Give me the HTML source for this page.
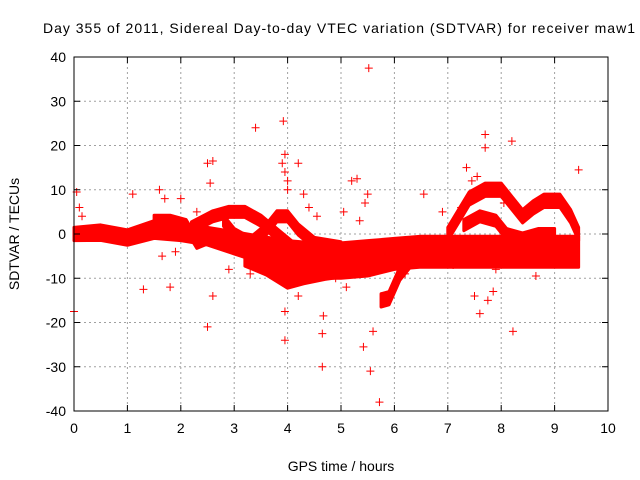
<!DOCTYPE html>
<html><head><meta charset="utf-8"><style>
body{margin:0;background:#fff}
svg{display:block;font-family:"Liberation Sans",sans-serif}
</style></head><body>
<svg id="c" width="640" height="480">
<text x="339" y="33" font-size="14" text-anchor="middle" textLength="592">Day 355 of 2011, Sidereal Day-to-day VTEC variation (SDTVAR) for receiver maw1</text>
<text x="341" y="471" font-size="14" text-anchor="middle">GPS time / hours</text>
<text transform="translate(19,234) rotate(-90)" font-size="14" text-anchor="middle">SDTVAR / TECUs</text>
<g id="grid"></g><g id="marks"></g><g id="axes"></g>
</svg>
<script>
const xTicks=[0,1,2,3,4,5,6,7,8,9,10];
const yTicks=[-40,-30,-20,-10,0,10,20,30,40];
// band tracks: [hour, value] knots
const trackMain=[[0,0],[0.5,0.3],[1,-0.8],[1.5,1],[2,0.5],[2.5,-0.5],[3,-2],[3.5,-3.5],[4,-5],[4.5,-6],[5,-6],[5.5,-5.5],[6,-4.5],[6.5,-4],[7,-4],[7.5,-4],[8,-4],[8.5,-4],[9,-4],[9.45,-4]];
const trackMainW=[3,3.5,3.5,4,4,4,5,6,7,8,8,8,7,7,7,7,7,7,7,7];
const trackLoopA=[[2.2,1.5],[2.6,4],[2.9,5],[3.2,5],[3.5,3],[3.8,0],[4.1,-3],[4.5,-4]];
const trackLoopB=[[2.8,3],[3.0,0],[3.3,-2],[3.6,1],[3.8,4],[4.0,4],[4.2,1],[4.5,-2],[5,-3]];
const trackLow=[[3.2,-5],[3.6,-7],[4,-10],[4.3,-9],[4.7,-8],[5,-7.5],[5.3,-7],[5.7,-6.5],[6,-5.5]];
const trackDip=[[5.75,-15],[5.9,-14.5],[6.1,-9],[6.3,-6]];
const trackTop=[[7.0,0],[7.2,4],[7.4,8],[7.7,10],[8.0,10],[8.2,7],[8.4,4],[8.6,6],[8.8,7.5],[9.1,7.5],[9.3,4],[9.45,0]];
const trackInner=[[7.3,2],[7.6,4],[7.9,3],[8.1,0],[8.4,-1],[8.7,0],[9.0,0]];
const trackMid=[[1.5,3],[1.8,3],[2.1,2],[2.3,-2],[2.5,-1]];
const outX=[5.52,3.4,3.92,7.7,8.2,7.7,2.5,2.6,3.95,4.2,7.35,9.45,5.3,5.2,2.55,1.6,0.05,1.1,4.3,5.5,6.55,1.3,1.8,2.6,2.5,3.95,3.95,4.65,4.67,4.65,5.42,5.55,5.6,5.72,8.22,7.6,7.75,8.65,0.0,7.5,7.85,4.2,5.1,1.7,2.0,3.95,4.0,4.0,3.9,7.55,7.45,0.1,0.15,1.65,1.9,2.3,2.9,3.3,3.75,4.4,4.55,4.9,5.05,5.35,5.45,6.2,6.9,7.1,7.25,7.9,8.05,8.7,9.1];
const outY=[37.5,24,25.5,22.5,21,19.5,16,16.5,18,16,15,14.5,12.5,12,11.5,10,9.5,9,9,9,9,-12.5,-12,-14,-21,-17.5,-24,-22.5,-18.5,-30,-25.5,-31,-22,-38,-22,-18,-15,-9.5,-17.5,-14,-13,-14,-12,8,8,14,12,10,16,13,12,6,4,-5,-4,5,-8,-9,-6,6,4,-10,5,3,7,-9,5,-7,6,-8,7,6,-6];
const X0=74,X1=608,Y0=411,Y1=57;
const sx=h=>X0+(h-0)/10*(X1-X0);
const sy=v=>Y0-(v+40)/80*(Y0-Y1);
const NS="http://www.w3.org/2000/svg";
function mk(t,a,p){const e=document.createElementNS(NS,t);for(const k in a)e.setAttribute(k,a[k]);p.appendChild(e);return e;}
const grid=document.getElementById('grid'),marks=document.getElementById('marks'),axes=document.getElementById('axes');
xTicks.forEach(t=>{if(t>0&&t<10){const l=mk('line',{x1:sx(t),x2:sx(t),y1:Y1,y2:Y0,stroke:'#a0a0a0','stroke-dasharray':'2,3'},grid);

}
const tx=mk('text',{x:sx(t),y:Y0+22,'font-size':14,'text-anchor':'middle'},axes);tx.textContent=t;


mk('line',{x1:sx(t),x2:sx(t),y1:Y0,y2:Y0-6,stroke:'#000'},axes);mk('line',{x1:sx(t),x2:sx(t),y1:Y1,y2:Y1+6,stroke:'#000'},axes);});
yTicks.forEach(t=>{if(t>-40&&t<40){const l=mk('line',{x1:X0,x2:X1,y1:sy(t),y2:sy(t),stroke:'#a0a0a0','stroke-dasharray':'2,3'},grid);

}
const tx=mk('text',{x:X0-8,y:sy(t)+5,'font-size':14,'text-anchor':'end'},axes);tx.textContent=t;


mk('line',{x1:X0,x2:X0+6,y1:sy(t),y2:sy(t),stroke:'#000'},axes);mk('line',{x1:X1,x2:X1-6,y1:sy(t),y2:sy(t),stroke:'#000'},axes);});
const fr=mk('rect',{x:X0,y:Y1,width:X1-X0,height:Y0-Y1,fill:'none',stroke:'#000'},axes);


function band(tr,w,name){const wd=i=>Array.isArray(w)?w[i]:w;
const up=tr.map((p,i)=>sx(p[0])+','+sy(p[1]+wd(i)/2));
const dn=tr.map((p,i)=>sx(p[0])+','+sy(p[1]-wd(i)/2)).reverse();
const pg=mk('polygon',{points:up.concat(dn).join(' '),fill:'#f00',stroke:'#f00','stroke-width':3,'stroke-linejoin':'round'},marks);

}
band(trackMain,trackMainW,'main-band');
band(trackLoopA,2.5,'loop-band-a');
band(trackLoopB,2.5,'loop-band-b');
band(trackLow,4.5,'low-band');
band(trackDip,3,'dip-band');
band(trackTop,3,'top-loop-band');
band(trackInner,2.5,'inner-loop-band');
band(trackMid,2.5,'mid-band');
outX.forEach((x,i)=>{const p=mk('path',{d:`M${sx(x)-4},${sy(outY[i])}h8M${sx(x)},${sy(outY[i])-4}v8`,stroke:'#f00','stroke-width':1},marks);

});
</script>
</body></html>
